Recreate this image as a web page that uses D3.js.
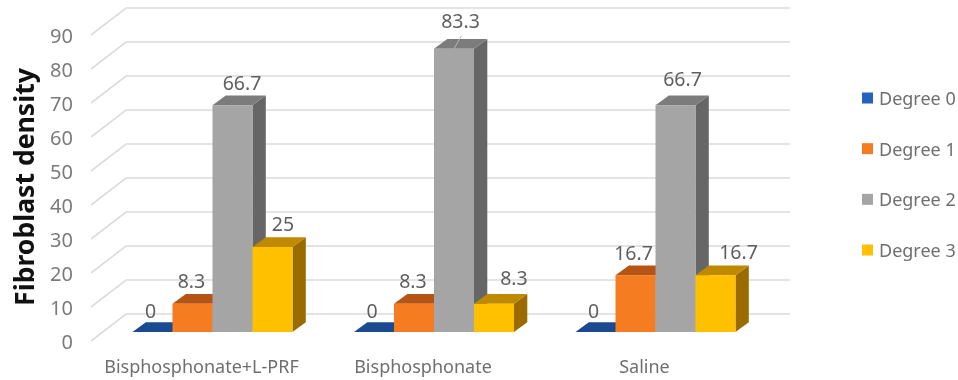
<!DOCTYPE html>
<html lang="en">
<head>
  <meta charset="UTF-8">
  <title>Fibroblast density</title>
  <style>
    html, body { margin: 0; background: #fff; }
    svg { display: block; filter: blur(0.45px); }
    text { font-family: "Noto Sans", sans-serif; }
    .grid { stroke: #dcdcdc; stroke-width: 1.6px; fill: none; }
    .tick-label { font-size: 20px; fill: #7b7b7b; text-anchor: end; dominant-baseline: central; }
    .cat-label { font-size: 18px; fill: #6f6f6f; text-anchor: middle; }
    .value-label { font-size: 19.5px; fill: #5f5f5f; text-anchor: middle; dominant-baseline: central; }
    .legend-label { font-size: 18px; fill: #6f6f6f; dominant-baseline: central; }
    .y-title { font-size: 26.6px; font-weight: 700; fill: #111; text-anchor: middle; }
  </style>
</head>
<body>
  <svg width="958" height="380"></svg>

  <script src="https://d3js.org/d3.v7.min.js"></script>
  <script>
    var categories = ["Bisphosphonate+L-PRF", "Bisphosphonate", "Saline"];
    var seriesNames = ["Degree 0", "Degree 1", "Degree 2", "Degree 3"];
    var degree0 = [0, 0, 0];
    var degree1 = [8.3, 8.3, 16.7];
    var degree2 = [66.7, 83.3, 66.7];
    var degree3 = [25, 8.3, 16.7];
    var yTicks = [0, 10, 20, 30, 40, 50, 60, 70, 80, 90];

    var seriesValues = [degree0, degree1, degree2, degree3];
    var frontColors = ["#2463bb", "#f57c20", "#a5a5a5", "#ffc000"];
    var topColors = ["#1c4a90", "#b55415", "#7c7c7c", "#bf8a00"];
    var sideColors = ["#16396f", "#93430f", "#666666", "#9a6c00"];

    // label nudges from the top centre of each bar, one row per series
    var labelNudge = [
      [[-2, -22], [-2, -22], [-2, -22]],
      [[-1, -23], [-1, -23], [-2, -23]],
      [[9.5, -23], [6.5, -28], [7, -27]],
      [[10.5, -24], [20, -26], [23, -24]]
    ];

    var svg = d3.select("svg");

    // wall depth and bar depth of the fake 3d box
    var wallDx = 35, wallDy = -27;
    var floorDy = -9;
    var barDx = 13.3, barDy = -9.7;

    var y = d3.scaleLinear().domain([0, 90]).range([341, 35]);
    var x0 = d3.scaleBand().domain(categories).range([101.75, 766.25])
      .paddingInner(0.2777).paddingOuter(0.1388);
    var x1 = d3.scaleBand().domain(d3.range(seriesNames.length)).range([0, x0.bandwidth()]);

    var grid = svg.append("g");
    yTicks.forEach(function(t) {
      grid.append("path")
        .attr("class", "grid")
        .attr("d", "M91," + y(t) + "L" + (91 + wallDx) + "," + (y(t) + wallDy) + "H790");
      svg.append("text")
        .attr("class", "tick-label")
        .attr("x", 73)
        .attr("y", y(t))
        .text(t);
    });

    var groups = svg.selectAll(".group")
      .data(categories)
      .enter().append("g")
      .attr("class", "group");

    groups.each(function(cat, c) {
      var g = d3.select(this);
      seriesValues.forEach(function(values, s) {
        var left = x0(cat) + x1(s);
        var right = left + x1.bandwidth();
        var base = y(0) + floorDy;
        var top = y(values[c]) + floorDy;

        // side
        g.append("path")
          .attr("fill", sideColors[s])
          .attr("d", "M" + right + "," + top + "l" + barDx + "," + barDy + "V" + (base + barDy) + "L" + right + "," + base + "Z");
        // top
        g.append("path")
          .attr("fill", topColors[s])
          .attr("d", "M" + left + "," + top + "l" + barDx + "," + barDy + "H" + (right + barDx) + "L" + right + "," + top + "Z");
        // front
        g.append("rect")
          .attr("fill", frontColors[s])
          .attr("x", left)
          .attr("y", top)
          .attr("width", x1.bandwidth())
          .attr("height", base - top);
      });
    });

    // 83.3 has a small leader line in the original
    svg.append("line")
      .attr("x1", x0(categories[1]) + x1(2) + x1.bandwidth() / 2)
      .attr("y1", y(degree2[1]) + floorDy)
      .attr("x2", x0(categories[1]) + x1(2) + x1.bandwidth() / 2 + 7.5)
      .attr("y2", y(degree2[1]) + floorDy - 13)
      .attr("stroke", "#b5b5b5")
      .attr("stroke-width", 1);

    seriesValues.forEach(function(values, s) {
      values.forEach(function(v, c) {
        svg.append("text")
          .attr("class", "value-label")
          .attr("x", x0(categories[c]) + x1(s) + x1.bandwidth() / 2 + labelNudge[s][c][0])
          .attr("y", y(v) + floorDy + labelNudge[s][c][1])
          .text(v);
      });
    });

    svg.selectAll(".cat-label")
      .data(categories)
      .enter().append("text")
      .attr("class", "cat-label")
      .attr("x", function(d) { return x0(d) + x0.bandwidth() / 2 - 11; })
      .attr("y", 373)
      .text(function(d) { return d; });

    svg.append("text")
      .attr("class", "y-title")
      .attr("transform", "translate(34,187) rotate(-90)")
      .text("Fibroblast density");

    var legendY = d3.scalePoint().domain(seriesNames).range([98, 250]);
    var legend = svg.selectAll(".legend")
      .data(seriesNames)
      .enter().append("g")
      .attr("class", "legend")
      .attr("transform", function(d) { return "translate(862," + legendY(d) + ")"; });
    legend.append("rect")
      .attr("x", 0).attr("y", -5.5)
      .attr("width", 11).attr("height", 11)
      .attr("fill", function(d, i) { return frontColors[i]; });
    legend.append("text")
      .attr("class", "legend-label")
      .attr("x", 17)
      .text(function(d) { return d; });
  </script>
</body>
</html>
